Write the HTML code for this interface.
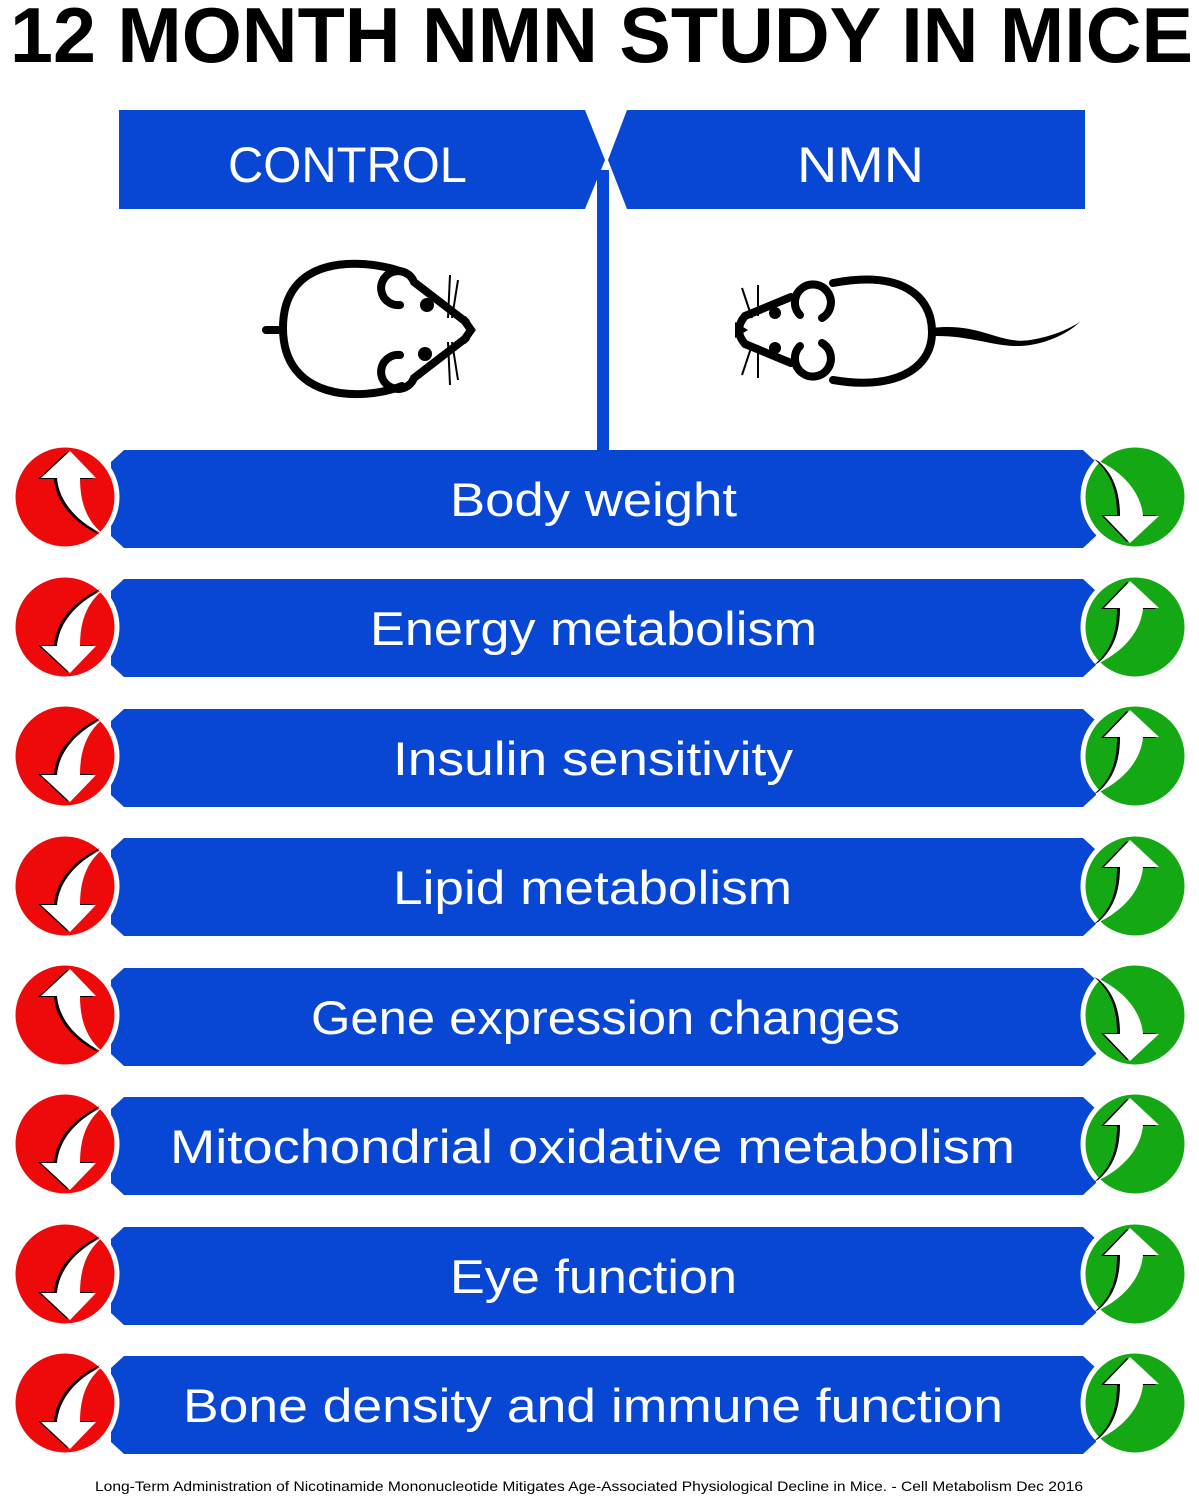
<!DOCTYPE html>
<html><head><meta charset="utf-8"><style>
html,body{margin:0;padding:0;background:#fff;}
svg{display:block;}
</style></head><body>
<svg width="1199" height="1500" viewBox="0 0 1199 1500" xmlns="http://www.w3.org/2000/svg">
<defs>
<path id="au" d="M 5,-46 L 31,-19 L 15,-19 C 15,6 22,24 38,37 C 14,26 -6,6 -8,-19 L -24,-19 Z"/>
<g id="ru">
 <circle r="52" fill="#ee0a0a" stroke="#fff" stroke-width="5"/>
 <use href="#au" fill="#000" transform="translate(-3,1)"/>
 <use href="#au" fill="#fff"/>
</g>
<g id="rd">
 <circle r="52" fill="#ee0a0a" stroke="#fff" stroke-width="5"/>
 <use href="#au" fill="#000" transform="translate(-3,-1) scale(1,-1)"/>
 <use href="#au" fill="#fff" transform="scale(1,-1)"/>
</g>
<g id="gd">
 <circle r="52" fill="#14a814" stroke="#fff" stroke-width="5"/>
 <use href="#au" fill="#000" transform="translate(-3,-1) rotate(180)"/>
 <use href="#au" fill="#fff" transform="rotate(180)"/>
</g>
<g id="gu">
 <circle r="52" fill="#14a814" stroke="#fff" stroke-width="5"/>
 <use href="#au" fill="#000" transform="translate(-3,1) scale(-1,1)"/>
 <use href="#au" fill="#fff" transform="scale(-1,1)"/>
</g>
<path id="bar" d="M 124,0 L 1083,0 L 1096,12 L 1096,86 L 1083,98 L 124,98 L 111,86 L 111,12 Z" fill="#0847d4"/>
</defs>

<text x="10" y="62" font-family="Liberation Sans, sans-serif" font-weight="bold" font-size="78" textLength="1183" lengthAdjust="spacingAndGlyphs" fill="#000">12 MONTH NMN STUDY IN MICE</text>

<polygon points="119,110 585,110 605,160 585,209 119,209" fill="#0847d4"/>
<polygon points="627,110 1085,110 1085,209 627,209 608,160" fill="#0847d4"/>
<rect x="597" y="170" width="12" height="282" fill="#0847d4"/>
<text x="228" y="182" font-family="Liberation Sans, sans-serif" font-size="50" fill="#fff" textLength="239" lengthAdjust="spacingAndGlyphs">CONTROL</text>
<text x="797" y="182" font-family="Liberation Sans, sans-serif" font-size="50" fill="#fff" textLength="127" lengthAdjust="spacingAndGlyphs">NMN</text>

<!-- control mouse -->
<g fill="none" stroke="#000" stroke-width="8" stroke-linecap="round">
 <path d="M 400,271 C 360,258 283,255 283,328 C 283,400 360,402 402,386"/>
 <line x1="266" y1="330" x2="283" y2="330"/>
 <path d="M 400,305 A 17 17 0 1 1 414,282 L 466,322"/>
 <path d="M 400,355 A 17 17 0 1 0 414,378 L 466,338"/>
 <path d="M 464,320 L 471,330 L 464,340"/>
</g>
<circle cx="427" cy="305" r="7"/><circle cx="425" cy="354" r="7"/>
<g stroke="#000" stroke-width="2"><line x1="450" y1="275" x2="448" y2="318"/><line x1="458" y1="280" x2="452" y2="318"/><line x1="450" y1="385" x2="448" y2="342"/><line x1="458" y1="380" x2="452" y2="342"/></g>

<!-- NMN mouse -->
<g fill="none" stroke="#000" stroke-width="8" stroke-linecap="round">
 <path d="M 833,283 C 900,270 932,295 932,332 C 932,372 890,390 833,380"/>
 <path d="M 800,315 A 18 18 0 1 1 822,318"/>
 <path d="M 800,346 A 18 18 0 1 0 822,343"/>
 <path d="M 791,297 L 745,316 Q 733,330 745,344 L 791,363"/>
</g>
<path d="M 932,328 C 980,322 1000,345 1030,340 C 1055,336 1070,328 1080,322 C 1068,333 1050,342 1030,345 C 1000,350 975,335 932,336 Z" fill="#000"/>
<circle cx="775" cy="313" r="6"/><circle cx="775" cy="348" r="6"/>
<path d="M 735,322 L 748,330 L 735,338 Z" fill="#000"/>
<g stroke="#000" stroke-width="2"><line x1="742" y1="288" x2="752" y2="318"/><line x1="758" y1="285" x2="758" y2="316"/><line x1="742" y1="375" x2="752" y2="345"/><line x1="758" y1="378" x2="758" y2="345"/></g>

<!-- rows -->
<g font-family="Liberation Sans, sans-serif" font-size="47" fill="#fff" text-anchor="start">
<use href="#bar" transform="translate(0,450)"/>
<text x="450" y="516" textLength="287" lengthAdjust="spacingAndGlyphs">Body weight</text>
<use href="#bar" transform="translate(0,579)"/>
<text x="370" y="645" textLength="447" lengthAdjust="spacingAndGlyphs">Energy metabolism</text>
<use href="#bar" transform="translate(0,709)"/>
<text x="393" y="775" textLength="400" lengthAdjust="spacingAndGlyphs">Insulin sensitivity</text>
<use href="#bar" transform="translate(0,838)"/>
<text x="393" y="904" textLength="399" lengthAdjust="spacingAndGlyphs">Lipid metabolism</text>
<use href="#bar" transform="translate(0,968)"/>
<text x="311" y="1034" textLength="589" lengthAdjust="spacingAndGlyphs">Gene expression changes</text>
<use href="#bar" transform="translate(0,1097)"/>
<text x="170" y="1163" textLength="845" lengthAdjust="spacingAndGlyphs">Mitochondrial oxidative metabolism</text>
<use href="#bar" transform="translate(0,1227)"/>
<text x="450" y="1293" textLength="287" lengthAdjust="spacingAndGlyphs">Eye function</text>
<use href="#bar" transform="translate(0,1356)"/>
<text x="183" y="1422" textLength="820" lengthAdjust="spacingAndGlyphs">Bone density and immune function</text>
</g>

<use href="#ru" transform="translate(65,497)"/>
<use href="#rd" transform="translate(65,627)"/>
<use href="#rd" transform="translate(65,756)"/>
<use href="#rd" transform="translate(65,886)"/>
<use href="#ru" transform="translate(65,1015)"/>
<use href="#rd" transform="translate(65,1144)"/>
<use href="#rd" transform="translate(65,1274)"/>
<use href="#rd" transform="translate(65,1403)"/>

<use href="#gd" transform="translate(1135,497)"/>
<use href="#gu" transform="translate(1135,627)"/>
<use href="#gu" transform="translate(1135,756)"/>
<use href="#gu" transform="translate(1135,886)"/>
<use href="#gd" transform="translate(1135,1015)"/>
<use href="#gu" transform="translate(1135,1144)"/>
<use href="#gu" transform="translate(1135,1274)"/>
<use href="#gu" transform="translate(1135,1403)"/>

<text x="95" y="1491" font-family="Liberation Sans, sans-serif" font-size="14" fill="#000" textLength="988" lengthAdjust="spacingAndGlyphs">Long-Term Administration of Nicotinamide Mononucleotide Mitigates Age-Associated Physiological Decline in Mice. - Cell Metabolism Dec 2016</text>
</svg>
</body></html>
